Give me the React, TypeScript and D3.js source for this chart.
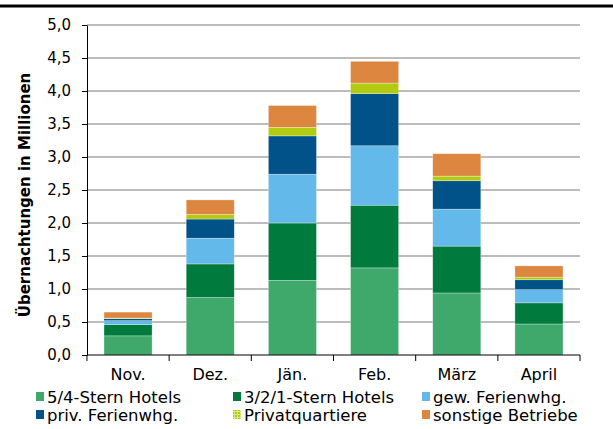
import { useEffect, useRef } from "react";
import * as d3 from "d3";

const months = ["Nov.", "Dez.", "Jän.", "Feb.", "März", "April"];
const series = [
  "5/4-Stern Hotels",
  "3/2/1-Stern Hotels",
  "gew. Ferienwhg.",
  "priv. Ferienwhg.",
  "Privatquartiere",
  "sonstige Betriebe",
];
const colors = ["#3fa96b", "#007a3d", "#63b9e9", "#005288", "#b2cb11", "#dd8640"];

const hotels54 = [0.29, 0.87, 1.13, 1.32, 0.94, 0.47];
const hotels321 = [0.17, 0.51, 0.87, 0.95, 0.71, 0.32];
const gewFerien = [0.06, 0.39, 0.74, 0.9, 0.56, 0.2];
const privFerien = [0.03, 0.29, 0.58, 0.79, 0.43, 0.15];
const privatQuartiere = [0.01, 0.07, 0.13, 0.16, 0.07, 0.04];
const sonstige = [0.09, 0.22, 0.33, 0.33, 0.34, 0.17];

const yTicks = [0, 0.5, 1, 1.5, 2, 2.5, 3, 3.5, 4, 4.5, 5];

export default function App() {
  const ref = useRef<SVGSVGElement>(null);

  useEffect(() => {
    if (!ref.current) return;
    const svg = d3.select(ref.current);
    svg.selectAll("*").remove();

    const width = 613;
    const height = 429;
    const margin = { top: 25, right: 33, bottom: 74, left: 87 };
    const font = "'DejaVu Sans', sans-serif";

    // checkered fill for the Privatquartiere legend key
    const defs = svg.append("defs");
    const pat = defs.append("pattern")
      .attr("id", "chk")
      .attr("width", 3).attr("height", 3)
      .attr("patternUnits", "userSpaceOnUse");
    pat.append("rect").attr("width", 3).attr("height", 3).attr("fill", "#b2cb11");
    pat.append("rect").attr("width", 1).attr("height", 3).attr("fill", "#d9e886");
    pat.append("rect").attr("width", 3).attr("height", 1).attr("fill", "#d9e886");

    const valuesBySeries = [hotels54, hotels321, gewFerien, privFerien, privatQuartiere, sonstige];
    const rows = months.map((m, i) => {
      const r: any = { month: m };
      series.forEach((s, j) => (r[s] = valuesBySeries[j][i]));
      return r;
    });
    const stacked = d3.stack().keys(series)(rows);

    const x = d3
      .scaleBand()
      .domain(months)
      .range([margin.left, width - margin.right])
      .paddingInner(0.415)
      .paddingOuter(0.207);
    const y = d3.scaleLinear().domain([0, 5]).range([height - margin.bottom, margin.top]);

    // top rule
    svg.append("line")
      .attr("x1", 0).attr("x2", width)
      .attr("y1", 6).attr("y2", 6)
      .attr("stroke", "#000").attr("stroke-width", 3);

    // gridlines
    svg.append("g")
      .selectAll("line")
      .data(yTicks.filter((t) => t > 0))
      .enter()
      .append("line")
      .attr("x1", margin.left).attr("x2", width - margin.right)
      .attr("y1", (d) => y(d)).attr("y2", (d) => y(d))
      .attr("stroke", "#a6a6a6").attr("stroke-width", 1.5);

    // bars
    svg.append("g")
      .selectAll("g")
      .data(stacked)
      .enter()
      .append("g")
      .attr("fill", (_d, i) => colors[i])
      .selectAll("rect")
      .data((d) => d)
      .enter()
      .append("rect")
      .attr("x", (d: any) => x(d.data.month) as number)
      .attr("width", x.bandwidth())
      .attr("y", (d) => y(d[1]))
      .attr("height", (d) => y(d[0]) - y(d[1]))
      .attr("stroke", "#ffffff")
      .attr("stroke-opacity", 0.5)
      .attr("stroke-width", 0.6);

    // y axis
    const yAxis = svg.append("g")
      .attr("transform", `translate(${margin.left},0)`)
      .call(d3.axisLeft(y).tickValues(yTicks).tickSize(5).tickSizeOuter(0)
        .tickFormat((d) => d3.format(".1f")(d as number).replace(".", ",")));
    yAxis.select(".domain").attr("stroke", "#000");
    yAxis.selectAll("line").attr("stroke", "#000");
    yAxis.selectAll("text")
      .attr("font-family", font).attr("font-size", 15).attr("fill", "#000").attr("x", -16);

    // x axis
    const xBase = y(0);
    const xg = svg.append("g");
    xg.append("line")
      .attr("x1", margin.left).attr("x2", width - margin.right)
      .attr("y1", xBase).attr("y2", xBase)
      .attr("stroke", "#000");
    const boundaries = months.map((m) => (x(m) as number) - (x.step() - x.bandwidth()) / 2)
      .concat([width - margin.right]);
    xg.selectAll(".tk")
      .data(boundaries)
      .enter()
      .append("line")
      .attr("x1", (d) => d).attr("x2", (d) => d)
      .attr("y1", xBase).attr("y2", xBase + 6)
      .attr("stroke", "#000");
    xg.selectAll("text")
      .data(months)
      .enter()
      .append("text")
      .attr("x", (d) => (x(d) as number) + x.bandwidth() / 2)
      .attr("y", 380)
      .attr("text-anchor", "middle")
      .attr("font-family", font).attr("font-size", 16)
      .text((d) => d);

    // y title
    svg.append("text")
      .attr("transform", `translate(30,195) rotate(-90)`)
      .attr("text-anchor", "middle")
      .attr("font-family", font).attr("font-size", 15).attr("font-weight", "bold")
      .text("Übernachtungen in Millionen");

    // legend
    const legX = [36, 233, 422];
    const legY = [403, 421];
    const leg = svg.append("g");
    series.forEach((s, i) => {
      const lx = legX[i % 3];
      const ly = legY[Math.floor(i / 3)];
      leg.append("rect")
        .attr("x", lx).attr("y", ly - 11)
        .attr("width", 8).attr("height", 9)
        .attr("fill", i === 4 ? "url(#chk)" : colors[i]);
      leg.append("text")
        .attr("x", lx + 11).attr("y", ly)
        .attr("font-family", font).attr("font-size", 16.5)
        .text(s);
    });
  }, []);

  return (
    <svg
      ref={ref}
      width={613}
      height={429}
      style={{ position: "absolute", left: 0, top: 0, background: "#fff" }}
    />
  );
}
